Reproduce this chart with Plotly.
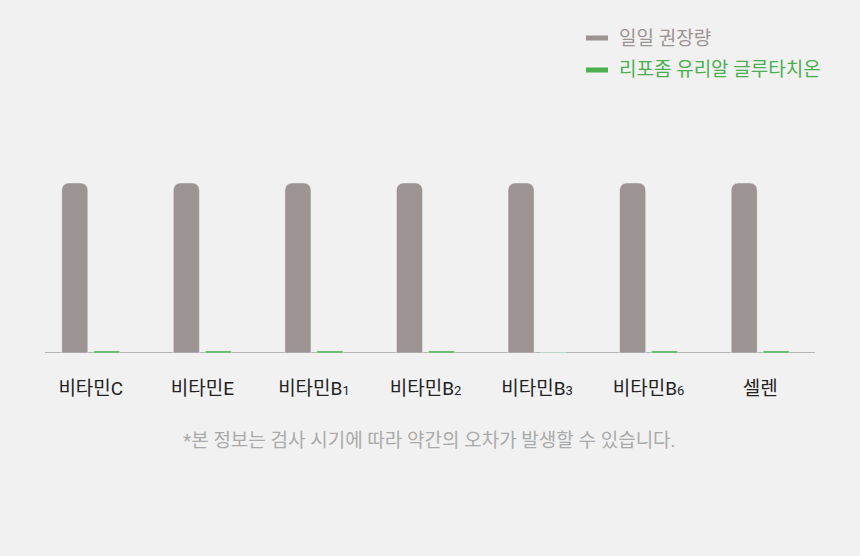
import plotly.graph_objects as go

# 데이터
categories = ["비타민C", "비타민E", "비타민B1", "비타민B2", "비타민B3", "비타민B6", "셀렌"]
tick_labels = [
    "비타민C",
    "비타민E",
    "비타민B<span style='font-size:13px'>1</span>",
    "비타민B<span style='font-size:13px'>2</span>",
    "비타민B<span style='font-size:13px'>3</span>",
    "비타민B<span style='font-size:13px'>6</span>",
    "셀렌",
]
daily_recommended = [100, 100, 100, 100, 100, 100, 100]
glutathione = [1.2, 1.2, 1.2, 1.2, 0.3, 1.2, 1.2]
series_names = ["일일 권장량", "리포좀 유리알 글루타치온"]
footnote = "*본 정보는 검사 시기에 따라 약간의 오차가 발생할 수 있습니다."

GRAY = "#9c9393"
GREEN = "#4bae4f"
BG = "#f1f1f1"
FONT = "Roboto, Noto Sans CJK KR"

fig = go.Figure()
fig.add_trace(
    go.Bar(x=categories, y=daily_recommended, name=series_names[0],
           marker=dict(color=GRAY, cornerradius=7), showlegend=False)
)
fig.add_trace(
    go.Bar(x=categories, y=glutathione, name=series_names[1],
           marker=dict(color=GREEN), showlegend=False)
)

fig.update_layout(
    width=860,
    height=556,
    paper_bgcolor=BG,
    plot_bgcolor=BG,
    margin=dict(l=35, r=44, t=140, b=203),
    barmode="group",
    bargap=0.4264,
    bargroupgap=0.1875,
    font=dict(family=FONT, size=19, color="#222222"),
    hovermode=False,
)
fig.update_xaxes(
    tickmode="array",
    tickvals=categories,
    ticktext=tick_labels,
    showgrid=False,
    zeroline=False,
    showline=False,
    ticks="",
    ticklabelstandoff=22,
    tickfont=dict(family=FONT, size=19, color="#222222"),
)
fig.update_yaxes(range=[0, 125.3], visible=False, showgrid=False, zeroline=False)

# 기준선
fig.add_shape(type="line", xref="paper", yref="y", x0=0.0128, x1=0.9987, y0=0, y1=0,
              line=dict(color="#a0a0a0", width=1.5), layer="below")

# 범례 (직접 그림)
legend_rows = [(series_names[0], GRAY, 38), (series_names[1], GREEN, 70)]
for name, color, ypix in legend_rows:
    fig.add_shape(type="rect", xref="paper", yref="paper",
                  x0=(586 - 35) / 781, x1=(608 - 35) / 781,
                  y0=(556 - ypix - 2.5 - 203) / 213, y1=(556 - ypix + 2.5 - 203) / 213,
                  fillcolor=color, line=dict(width=0))
    fig.add_annotation(text=name, xref="paper", yref="paper",
                       x=(617 - 35) / 781, y=(556 - ypix - 203) / 213,
                       xanchor="left", yanchor="middle", showarrow=False,
                       font=dict(family=FONT, size=19, color=color))

# 각주
fig.add_annotation(text=footnote, xref="paper", yref="paper",
                   x=(430 - 35) / 781, y=(556 - 440 - 203) / 213,
                   xanchor="center", yanchor="middle", showarrow=False,
                   font=dict(family=FONT, size=19, color="#aaaaaa"))

fig.write_html("out.html", config={"displayModeBar": False},
               post_script="document.body.style.margin='0';")
